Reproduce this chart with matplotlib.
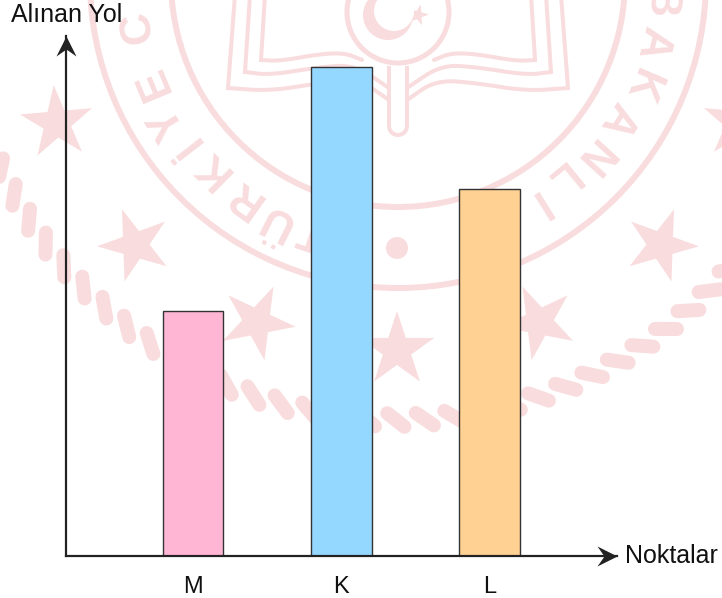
import numpy as np
import matplotlib
matplotlib.use('Agg')
import matplotlib.pyplot as plt
from matplotlib.path import Path
from matplotlib.patches import Circle, Ellipse, Polygon

plt.rcParams['font.family'] = ['Liberation Sans', 'DejaVu Sans']

# chart data
categories = ['M', 'K', 'L']
values = [2, 4, 3]
bar_colors = ['#ffb6d5', '#94d7ff', '#ffd294']

W, H = 722, 598
PINK = '#f9dcdd'
DARK = '#222222'
px = 100 / 72  # pixels per point at dpi 100

fig = plt.figure(figsize=(W / 100, H / 100), dpi=100)

# watermark goes in its own axes, in image pixels
bg = fig.add_axes([0, 0, 1, 1])
bg.set_xlim(0, W)
bg.set_ylim(H, 0)
bg.axis('off')

cx, cy = 398, -20

# rings
for r in [308, 227]:
    bg.add_patch(Circle((cx, cy), r, fill=False, ec=PINK, lw=6 / px))
bg.add_patch(Circle((397, 248), 11, fc=PINK, ec='none'))


def star(x, y, R, tilt):
    a = np.radians(tilt + np.arange(10) * 36)
    rad = np.where(np.arange(10) % 2 == 0, R, R * 0.382)
    pts = np.column_stack([x + rad * np.sin(a), y - rad * np.cos(a)])
    bg.add_patch(Polygon(pts, fc=PINK, ec='none'))


for x, y, R, tilt in [(57, 123, 38, -5), (135, 245, 38, -20), (257, 322, 39, 25),
                      (397, 350, 39, 0), (539, 322, 39, -25), (661, 245, 38, 20),
                      (739, 123, 38, 5), (418, 15, 11, 15)]:
    star(x, y, R, tilt)

# crescent and the oval round it
bg.add_patch(Ellipse((398, 12), 102, 102, fill=False, ec=PINK, lw=5 / px))
bg.add_patch(Circle((388, 15), 25, fc=PINK, ec='none'))
bg.add_patch(Circle((394, 11), 20, fc='white', ec='none'))


def smooth(pts, n=3):
    pts = np.array(pts, dtype=float)
    for _ in range(n):
        q = 0.75 * pts[:-1] + 0.25 * pts[1:]
        s = 0.25 * pts[:-1] + 0.75 * pts[1:]
        mid = np.empty((len(q) * 2, 2))
        mid[0::2] = q
        mid[1::2] = s
        pts = np.vstack([pts[0], mid, pts[-1]])
    return pts


# book pages, left side then mirrored
book = [
    [(235, -5), (228, 88)],
    [(250, -5), (245, 72)],
    [(265, -5), (261, 60)],
]
pages = [
    [(228, 88), (270, 91), (320, 83), (360, 80), (389, 100)],
    [(245, 72), (270, 75), (320, 67), (355, 65), (389, 88)],
    [(261, 60), (280, 61), (320, 54), (345, 53), (362, 60)],
]
for edge, page in zip(book, pages):
    curve = smooth(page)
    for xs, ys in [(curve[:, 0], curve[:, 1]), (2 * cx - curve[:, 0], curve[:, 1])]:
        bg.plot(xs, ys, color=PINK, lw=4 / px, solid_capstyle='round')
    e = np.array(edge)
    bg.plot(e[:, 0], e[:, 1], color=PINK, lw=4 / px)
    bg.plot(2 * cx - e[:, 0], e[:, 1], color=PINK, lw=4 / px)

# stem below the oval
t = np.linspace(0, np.pi, 20)
stem_x = np.concatenate([[389], cx + 9 * np.cos(np.pi - t), [407]])
stem_y = np.concatenate([[68], 126 + 9 * np.sin(t), [68]])
bg.plot(stem_x, stem_y, color=PINK, lw=4 / px)

# rope, each strand leans 38 degrees off the tangent
for deg in np.arange(-8, 188, 3.78):
    a = np.radians(deg)
    x0 = cx + 440 * np.cos(a)
    y0 = cy + 440 * np.sin(a)
    d = a + np.pi / 2 - np.radians(180 - 38)
    dx, dy = 11 * np.cos(d), 11 * np.sin(d)
    bg.plot([x0 - dx, x0 + dx], [y0 - dy, y0 + dy], color=PINK, lw=14 / px,
            solid_capstyle='round')

# ring lettering, tops point outwards
letters = [('C', 138, 27), ('E', 154, 82), ('Y', 168, 122), ('İ', 189, 143),
           ('K', 212, 168), ('R', 244, 197), ('Ü', 276, 220), ('T', 313, 232),
           ('B', 659, 3), ('A', 652, 43), ('K', 640, 85), ('A', 617, 120),
           ('N', 592, 157), ('L', 560, 177), ('I', 537, 203), ('Ğ', 500, 224)]
for ch, x, y in letters:
    rot = np.degrees(np.arctan2(-(x - cx), -(y - cy)))
    bg.text(x, y, ch, color=PINK, fontsize=32, fontweight='bold', rotation=rot,
            rotation_mode='anchor', ha='center', va='center')

# chart axes, origin at the corner of the arrows
left, right, top, bottom = 66, 617, 36, 555.5
ax = fig.add_axes([left / W, 1 - bottom / H, (right - left) / W, (bottom - top) / H])
ax.patch.set_alpha(0)

pos = np.arange(len(categories))
ax.bar(pos, values, width=0.411, color=bar_colors, edgecolor='#333333', linewidth=1, zorder=2)
ax.set_xlim((left - 193) / 148.25, (right - 193) / 148.25)
ax.set_ylim(0, (bottom - top) / 122.1)
ax.set_xticks(pos, categories, fontsize=17)
ax.set_yticks([])
ax.tick_params(axis='x', length=0, pad=15, labelcolor='#111111')

for side in ['top', 'right']:
    ax.spines[side].set_visible(False)
for side in ['left', 'bottom']:
    ax.spines[side].set_linewidth(2.2 / px)
    ax.spines[side].set_color(DARK)

# arrow heads, tip sits at the origin of the marker
head_x = Path([(0, 0), (-2, 1), (-1.3, 0), (-2, -1), (0, 0)])
head_y = Path([(0, 0), (1, -2), (0, -1.3), (-1, -2), (0, 0)])
ax.plot(1, 0, marker=head_x, ms=40 / px, color=DARK, mew=0, transform=ax.transAxes, clip_on=False, zorder=3)
ax.plot(0, 1, marker=head_y, ms=40 / px, color=DARK, mew=0, transform=ax.transAxes, clip_on=False, zorder=3)

fig.text(11 / W, 1 - 15 / H, 'Alınan Yol', fontsize=18, color='#111111', ha='left', va='center')
fig.text(625 / W, 1 - 556 / H, 'Noktalar', fontsize=18, color='#111111', ha='left', va='center')

fig.savefig('out.png', dpi=100)
